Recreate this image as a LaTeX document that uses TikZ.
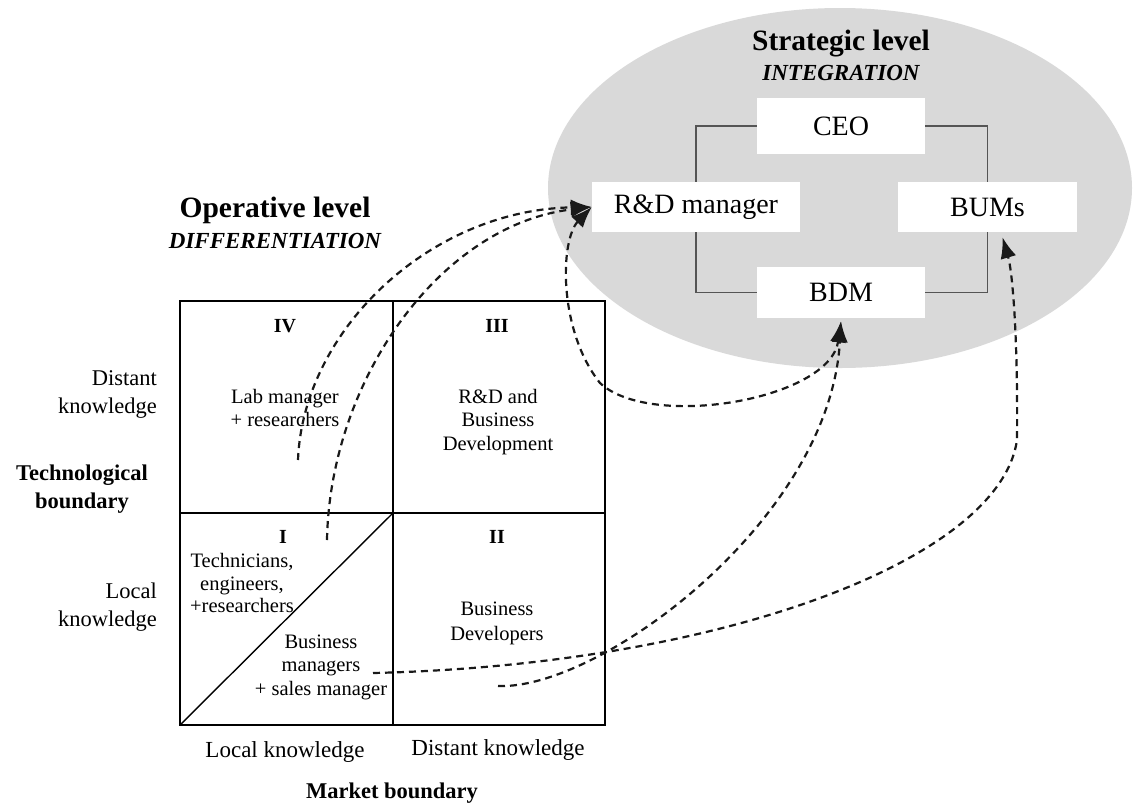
\documentclass[tikz,border=0pt]{standalone}
\usepackage{fontspec}
\setmainfont{Liberation Serif}
\usetikzlibrary{arrows.meta,calc}
\definecolor{ellgray}{RGB}{217,217,217}
\definecolor{conngray}{RGB}{85,85,85}
\begin{document}
\begin{tikzpicture}[x=1pt,y=-1pt,
  box/.style={fill=white,inner sep=0pt,font=\fontsize{28}{30}\selectfont},
  cell/.style={inner sep=0pt,align=center,font=\fontsize{20.5}{23.5}\selectfont},
  side/.style={inner sep=0pt,align=right,anchor=east,font=\fontsize{22.5}{28}\selectfont},
  axis/.style={inner sep=0pt,anchor=base,font=\fontsize{23}{27}\selectfont},
  roman/.style={inner sep=0pt,anchor=base,font=\fontsize{20}{24}\selectfont\bfseries},
  bigtitle/.style={inner sep=0pt,anchor=base,font=\fontsize{29.5}{32}\selectfont\bfseries},
  subtitle/.style={inner sep=0pt,anchor=base,font=\fontsize{23}{27}\selectfont\bfseries\itshape},
  conn/.style={draw=conngray,line width=1.6pt},
  grid/.style={draw=black,line width=2.2pt},
  tip/.tip={Latex[length=21pt,width=16pt]},
  flow/.style={draw=black!90,line width=2.2pt,dash pattern=on 7pt off 5pt,-tip},
  flowboth/.style={draw=black!90,line width=2.2pt,dash pattern=on 7pt off 5pt,tip-tip}
]
\useasboundingbox (0,0) rectangle (1141,807);

% strategic ellipse
\fill[ellgray] (840,188) ellipse [x radius=292pt, y radius=180pt];
\node[bigtitle] (stitle) at (841,50) {Strategic level};
\node[subtitle] (sint) at (841,80) {INTEGRATION};

% boxes
\node[box,minimum width=168pt,minimum height=56pt] (ceo) at (841,126) {CEO};
\node[box,minimum width=208pt,minimum height=50pt] (rd) at (696,207) {R\&D manager};
\node[box,minimum width=179pt,minimum height=50pt] (bums) at (987.5,207) {BUMs};
\node[box,minimum width=168pt,minimum height=51pt] (bdm) at (841,292.5) {BDM};
\draw[conn] (ceo.west) -| (rd.north);
\draw[conn] (rd.south) |- (bdm.west);
\draw[conn] (ceo.east) -| (bums.north);
\draw[conn] (bums.south) |- (bdm.east);

% operative title
\node[bigtitle] (otitle) at (275,217) {Operative level};
\node[subtitle] (odiff) at (275,248) {DIFFERENTIATION};

% grid
\draw[grid] (180,301) rectangle (605,725);
\draw[grid] (393,301) -- (393,725);
\draw[grid] (180,513) -- (605,513);
\draw[line width=1.4pt] (180,725) -- (393,513);

% cell texts
\node[roman] (q4) at (285,332) {IV};
\node[roman] (q3) at (497,332) {III};
\node[roman] (q1) at (283,543) {I};
\node[roman] (q2) at (497,543) {II};
\node[cell] (lab) at (285,408) {Lab manager\\+ researchers};
\node[cell] (rdbd) at (498,422) {R\&D and\\Business\\Development};
\node[cell,font=\fontsize{20.5}{22.5}\selectfont] (tech) at (242,583) {Technicians,\\engineers,\\+researchers};
\node[cell] (bman) at (321,667) {Business\\managers\\+ sales manager};
\node[cell,font=\fontsize{20.5}{25}\selectfont] (bdev) at (497,623) {Business\\Developers};

% axis labels
\node[side] (dk) at (157,394) {Distant\\knowledge};
\node[side] (lk) at (157,607) {Local\\knowledge};
\node[inner sep=0pt,align=center,font=\fontsize{22.5}{28}\selectfont\bfseries] (tb) at (82,489) {Technological\\boundary};
\node[axis] (lkb) at (285,757) {Local knowledge};
\node[axis] (dkb) at (498,755) {Distant knowledge};
\node[inner sep=0pt,anchor=base,font=\fontsize{22.5}{26}\selectfont\bfseries] (mb) at (392,798) {Market boundary};

% flows
\coordinate (sA) at (298,460);
\coordinate (sB) at (327,540);
\coordinate (sD) at (373,673);
\coordinate (sE) at (498,686);
\draw[flow] (sA) .. controls (303,330) and (430,210) .. (rd.west);
\draw[flow] (sB) .. controls (330,380) and (440,225) .. (rd.west);
\draw[flowboth] (rd.west) .. controls (560,240) and (558,330) .. (600,383) .. controls (650,430) and (830,400) .. ($(bdm.south)+(0,3)$);
\draw[flow] (sD) .. controls (720,665) and (1000,560) .. (1017,440) .. controls (1018,330) and (1012,270) .. ($(bums.south)+(15,5)$);
\draw[flow] (sE) .. controls (600,690) and (830,520) .. ($(bdm.south)+(0,3)$);
\end{tikzpicture}
\end{document}
